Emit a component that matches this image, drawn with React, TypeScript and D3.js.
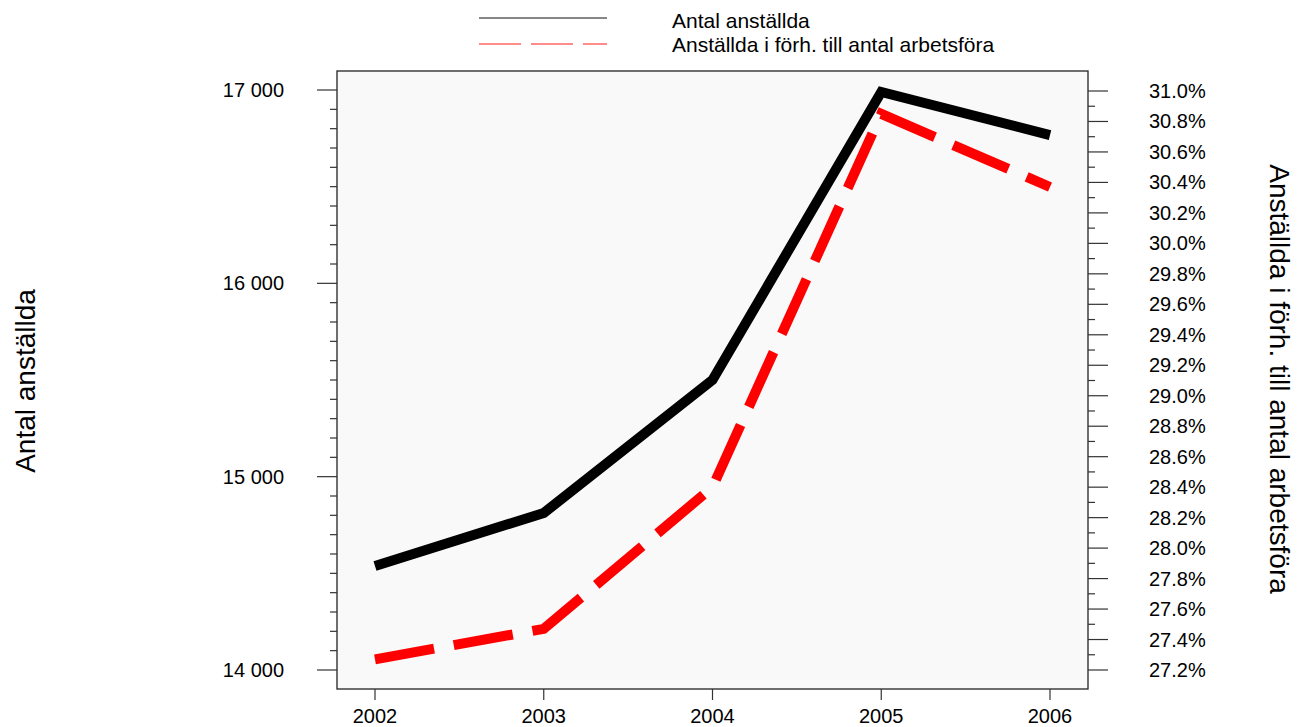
import React from "react";
import * as d3 from "d3";

const years = [2002, 2003, 2004, 2005, 2006];
const employees = [14538, 14812, 15500, 16990, 16767];
const shareOfWorkforce = [27.27, 27.47, 28.4, 30.85, 30.37];
const leftTicks = [14000, 15000, 16000, 17000];
const rightTickLabels = ["27.2%","27.4%","27.6%","27.8%","28.0%","28.2%","28.4%","28.6%","28.8%","29.0%","29.2%","29.4%","29.6%","29.8%","30.0%","30.2%","30.4%","30.6%","30.8%","31.0%"];
const seriesNames = ["Antal anställda", "Anställda i förh. till antal arbetsföra"];
const leftTitle = "Antal anställda";
const rightTitle = "Anställda i förh. till antal arbetsföra";

const W = 1301, H = 727;
const frame = { l: 337, r: 1088, t: 71, b: 689 };
const font = "Liberation Sans, Arial, sans-serif";

export default function App() {
  const x = d3.scalePoint<number>().domain(years).range([375, 1050]);
  const yL = d3.scaleLinear().domain([14000, 17000]).range([670, 90]);
  const yR = d3.scaleLinear().domain([27.2, 31.0]).range([670, 91]);
  const leftMinor = d3.range(14000, 17001, 100);
  const rightMinor = d3.range(0, 39).map((i) => 27.2 + i * 0.1);
  const lineL = d3.line<number>().x((_, i) => x(years[i])!).y((d) => yL(d));
  const lineR = d3.line<number>().x((_, i) => x(years[i])!).y((d) => yR(d));
  const tickColor = "#333";
  return (
    <svg width={W} height={H} style={{ position: "absolute", left: 0, top: 0, background: "#fff" }} fontFamily={font}>
      {/* legend */}
      <line x1={479} x2={607} y1={18} y2={18} stroke="#111" strokeWidth={1} />
      <line x1={479} x2={607} y1={44} y2={44} stroke="#f66" strokeWidth={1.5} strokeDasharray="42 10" />
      <text x={672} y={28} fontSize={21}>{seriesNames[0]}</text>
      <text x={672} y={52} fontSize={21}>{seriesNames[1]}</text>

      {/* frame */}
      <rect x={frame.l} y={frame.t} width={frame.r - frame.l} height={frame.b - frame.t} fill="#f9f9f9" stroke="#222" strokeWidth={1.3} />

      {/* left axis */}
      {leftMinor.map((v) => (
        <line key={"lm" + v} x1={frame.l - (v % 1000 === 0 ? 20 : 7)} x2={frame.l} y1={yL(v)} y2={yL(v)} stroke={tickColor} strokeWidth={1.2} />
      ))}
      {leftTicks.map((v) => (
        <text key={"lt" + v} x={284} y={yL(v) + 7} fontSize={20} textAnchor="end">
          {d3.format(",")(v).replace(",", " ")}
        </text>
      ))}

      {/* right axis */}
      {rightMinor.map((v, i) => (
        <line key={"rm" + i} x1={frame.r} x2={frame.r + (i % 2 === 0 ? 20 : 7)} y1={yR(v)} y2={yR(v)} stroke={tickColor} strokeWidth={1.2} />
      ))}
      {rightTickLabels.map((s, i) => (
        <text key={"rt" + s} x={1149} y={yR(27.2 + i * 0.2) + 7} fontSize={20}>{s}</text>
      ))}

      {/* bottom axis */}
      {years.map((yr) => (
        <g key={yr}>
          <line x1={x(yr)} x2={x(yr)} y1={frame.b} y2={frame.b + 11} stroke={tickColor} strokeWidth={1.2} />
          <text x={x(yr)} y={723} fontSize={20} textAnchor="middle">{yr}</text>
        </g>
      ))}

      {/* titles */}
      <text transform="translate(35,381) rotate(-90)" fontSize={28} textAnchor="middle">{leftTitle}</text>
      <text transform="translate(1270,379) rotate(90)" fontSize={28} textAnchor="middle">{rightTitle}</text>

      {/* series */}
      <path d={lineL(employees)!} fill="none" stroke="#000" strokeWidth={10} strokeLinejoin="miter" />
      <path d={lineR(shareOfWorkforce)!} fill="none" stroke="#f00" strokeWidth={10} strokeDasharray="60 20" strokeLinejoin="miter" />
    </svg>
  );
}
